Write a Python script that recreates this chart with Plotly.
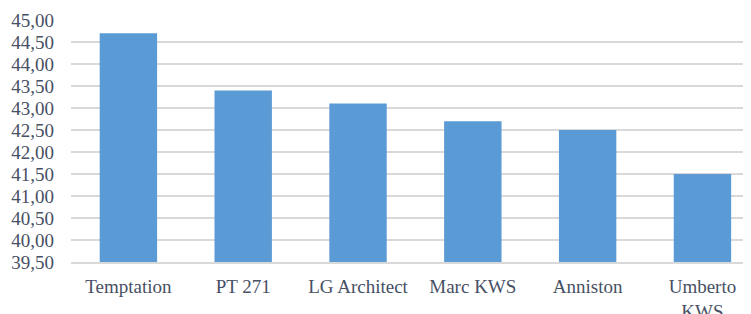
import plotly.graph_objects as go

categories = ["Temptation", "PT 271", "LG Architect", "Marc KWS", "Anniston", "Umberto<br>KWS"]
values = [44.70, 43.40, 43.10, 42.70, 42.50, 41.50]
baseline = 39.5

fig = go.Figure(
    go.Bar(
        x=list(range(len(categories))),
        y=[v - baseline for v in values],
        base=baseline,
        width=0.5,
        marker=dict(color="#5B9BD5", line=dict(width=0)),
    )
)

font_color = "#475064"
# page body has an 8px default margin, so the figure is sized/offset to compensate
fig.update_layout(
    width=743,
    height=306,
    margin=dict(l=63, r=0, t=12, b=52),
    paper_bgcolor="white",
    plot_bgcolor="white",
    showlegend=False,
    separators=",.",
    font=dict(family="Liberation Serif", size=19, color=font_color),
)
fig.update_xaxes(
    tickmode="array",
    tickvals=list(range(len(categories))),
    ticktext=categories,
    range=[-0.5, 5.423],
    showgrid=False,
    showline=True,
    linecolor="#d9d9d9",
    linewidth=2,
    ticks="",
    ticklabelstandoff=6,
    automargin=False,
    tickfont=dict(family="Liberation Serif", size=19, color=font_color),
)
fig.update_yaxes(
    range=[39.5, 45.0],
    dtick=0.5,
    tick0=39.5,
    tickformat=".2f",
    showgrid=True,
    gridcolor="#d9d9d9",
    gridwidth=2,
    zeroline=False,
    showline=False,
    ticks="",
    ticklabelstandoff=16,
    automargin=False,
    tickfont=dict(family="Liberation Serif", size=19, color=font_color),
)

fig.write_html("out.html")
